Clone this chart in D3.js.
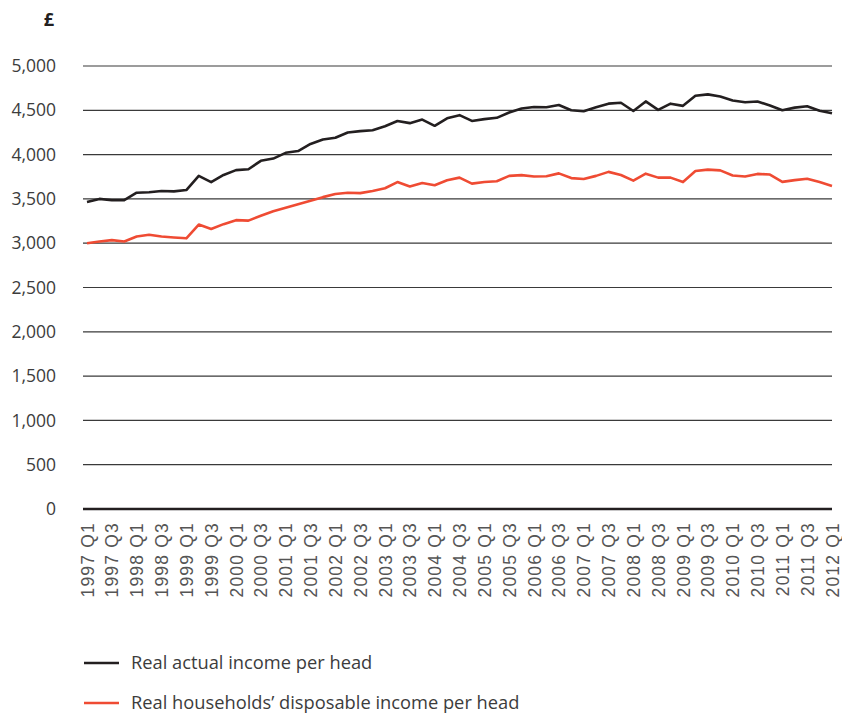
<!DOCTYPE html>
<html>
<head>
    <meta charset="utf-8">
    <title>Real income per head</title>
    <style>
        body { margin: 0; background: #fff; }
        text { font-family: "Open Sans", Lato, sans-serif; }
    </style>
</head>
<body>
<div id="plot"></div>
<script src="https://cdnjs.cloudflare.com/ajax/libs/d3/7.8.5/d3.min.js"></script>
<script>

    // quarters 1997 Q1 .. 2012 Q1
    let quarters = [];
    for (let yr = 1997; yr <= 2012; yr++) {
        ['Q1', 'Q2', 'Q3', 'Q4'].forEach(q => quarters.push(yr + ' ' + q));
    }
    quarters = quarters.slice(0, 61);

    let actualIncome = [
        3465, 3500, 3485, 3485, 3570, 3575, 3590, 3585, 3600, 3760,
        3690, 3770, 3825, 3835, 3930, 3955, 4020, 4040, 4120, 4170,
        4190, 4250, 4265, 4275, 4320, 4380, 4355, 4395, 4325, 4410,
        4445, 4380, 4400, 4415, 4475, 4520, 4538, 4535, 4560, 4500,
        4490, 4535, 4575, 4585, 4492, 4600, 4505, 4575, 4550, 4665,
        4680, 4655, 4610, 4590, 4600, 4555, 4500, 4530, 4545, 4495,
        4466
    ];
    let disposableIncome = [
        3000, 3020, 3035, 3020, 3075, 3095, 3075, 3065, 3055, 3210,
        3160, 3215, 3260, 3255, 3310, 3360, 3400, 3440, 3480, 3520,
        3555, 3570, 3565, 3590, 3620, 3690, 3640, 3680, 3655, 3710,
        3740, 3672, 3690, 3700, 3760, 3768, 3752, 3755, 3788, 3735,
        3725, 3760, 3805, 3770, 3706, 3785, 3740, 3740, 3690, 3815,
        3830, 3822, 3765, 3752, 3782, 3775, 3692, 3712, 3728, 3690,
        3646
    ];
    let yTicks = [0, 500, 1000, 1500, 2000, 2500, 3000, 3500, 4000, 4500, 5000];
    let seriesNames = ['Real actual income per head', 'Real households\u2019 disposable income per head'];
    let seriesColors = ['#231f20', '#ef4b33'];

    function translate(x, y) {
      return 'translate(' + x + ', ' + y + ')';
    }

    let svgWidth = 842;
    let svgHeight = 717;
    let svg = d3.select('#plot')
      .append('svg')
        .attr('width', svgWidth)
        .attr('height', svgHeight);

    let x = d3.scalePoint().domain(quarters).range([87, 832]);
    let y = d3.scaleLinear().domain([0, 5000]).range([509, 66]);

    // gridlines
    svg.append('g')
      .selectAll('line')
      .data(yTicks.filter(d => d > 0))
      .enter()
      .append('line')
        .attr('x1', 83)
        .attr('x2', 832)
        .attr('y1', d => y(d))
        .attr('y2', d => y(d))
        .style('stroke', '#3a3a3a')
        .style('stroke-width', 1.2);

    // y axis labels
    let yAxis = d3.axisLeft(y).tickValues(yTicks).tickSize(0).tickPadding(0)
        .tickFormat(d3.format(','));
    svg.append('g')
      .attr('transform', translate(56, 0))
      .call(yAxis)
      .call(g => g.select('.domain').remove())
      .selectAll('text')
        .style('font-family', '"Open Sans", sans-serif')
        .style('font-size', '17.5px')
        .style('fill', '#3c3c3c');

    svg.append('text')
      .attr('x', 49)
      .attr('y', 26)
      .style('text-anchor', 'middle')
      .style('font-size', '18px')
      .style('font-weight', 'bold')
      .style('fill', '#231f20')
      .text('£');

    // x axis labels
    let xAxis = d3.axisBottom(x)
        .tickValues(quarters.filter(q => q.endsWith('Q1') || q.endsWith('Q3')))
        .tickSize(0);
    svg.append('g')
      .attr('transform', translate(0, 509))
      .call(xAxis)
      .call(g => g.select('.domain').remove())
      .selectAll('text')
        .attr('transform', 'rotate(-90)')
        .attr('x', -13)
        .attr('y', 0)
        .attr('dy', '0.35em')
        .style('text-anchor', 'end')
        .style('font-family', '"Liberation Sans", Arial, sans-serif')
        .style('font-size', '17.5px')
        .style('letter-spacing', '1.2px')
        .style('fill', '#555');

    // zero line
    svg.append('line')
      .attr('x1', 83)
      .attr('x2', 832)
      .attr('y1', y(0))
      .attr('y2', y(0))
      .style('stroke', '#231f20')
      .style('stroke-width', 2.6);

    let line = d3.line()
      .x((d, i) => x(quarters[i]))
      .y(d => y(d));

    [actualIncome, disposableIncome].forEach((s, k) => {
        svg.append('path')
          .datum(s)
          .attr('d', line)
          .style('fill', 'none')
          .style('stroke', seriesColors[k])
          .style('stroke-width', 2.6)
          .style('stroke-linejoin', 'round');
    });

    // legend
    let legend = svg.selectAll('.legend')
      .data(seriesNames)
      .enter()
      .append('g')
        .attr('class', 'legend')
        .attr('transform', (d, i) => translate(84, 663 + i * 40));

    legend.append('line')
      .attr('x1', 0)
      .attr('x2', 35)
      .style('stroke', (d, i) => seriesColors[i])
      .style('stroke-width', 2.4);

    legend.append('text')
      .attr('x', 47)
      .attr('dy', '0.35em')
      .style('font-size', '18.3px')
      .style('fill', '#3c3c3c')
      .text(d => d);

</script>
</body>
</html>
